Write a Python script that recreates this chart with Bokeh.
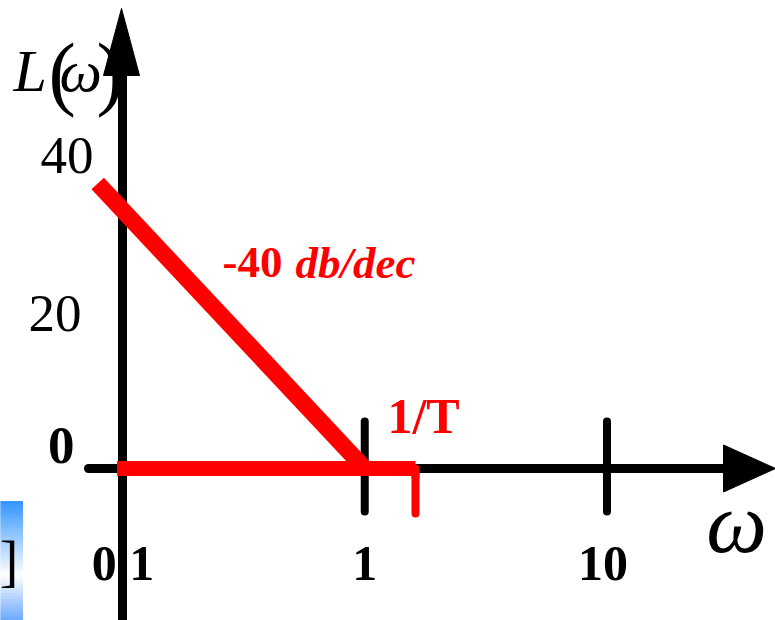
import numpy as np
from bokeh.plotting import figure
from bokeh.models import Range1d
from bokeh.core.properties import value
from bokeh.embed import file_html
from bokeh.resources import INLINE

# ---------------- data ----------------
x_ticks = [1, 10]                       # tick marks drawn on the omega axis
x_tick_values = [0.1, 1, 10]            # tick label positions
x_tick_labels = ["0.1", "1", "10"]
y_tick_values = [0, 20, 40]
y_tick_labels = ["0", "20", "40"]
slope_w = [0.079, 1.0]                  # -40 dB/dec asymptote
slope_L = [38.0, 0.0]
flat_w = [0.095, 1.62]                  # 0 dB asymptote up to 1/T
flat_L = [0.0, 0.0]
corner_w = 1.62                         # 1/T
slope_text_a = "-40"
slope_text_b = "db/dec"
corner_text = "1/T"

# ---------------- layout helpers ----------------
W, H = 775, 620
LMIN, LMAX = -1.5036, 1.6956
YMIN, YMAX = -20.27, 62.4
SERIF = value("Liberation Serif")


def to_w(px):
    """page x pixel -> omega"""
    return 10 ** (LMIN + px / W * (LMAX - LMIN))


def to_L(py):
    """page y pixel -> dB"""
    return YMAX - py / H * (YMAX - YMIN)


p = figure(width=W, height=H, x_axis_type="log",
           x_range=Range1d(10 ** LMIN, 10 ** LMAX), y_range=Range1d(YMIN, YMAX),
           x_axis_location=None, y_axis_location=None,
           output_backend="svg", toolbar_location=None, min_border=0)
p.grid.visible = False
p.outline_line_color = None
p.background_fill_color = "white"
p.border_fill_color = "white"

# ---- leftover slide fragment at the left edge ----
stops = [(501, (51, 150, 255)), (575, (255, 255, 255)), (620, (110, 170, 255))]
n = 40
edges = np.linspace(501, 620, n + 1)
cols = []
for i in range(n):
    t = (edges[i] + edges[i + 1]) / 2
    for (a, ca), (b, cb) in zip(stops[:-1], stops[1:]):
        if a <= t <= b:
            f = (t - a) / (b - a)
            c = tuple(int(ca[k] + (cb[k] - ca[k]) * f) for k in range(3))
    cols.append("#%02x%02x%02x" % c)
p.quad(left=[to_w(0)] * n, right=[to_w(22)] * n,
       top=[to_L(e) for e in edges[:-1]], bottom=[to_L(e) for e in edges[1:]],
       fill_color=cols, line_color=cols, line_width=1)
p.text(x=[to_w(18)], y=[to_L(560)], text=["]"], text_font=SERIF,
       text_font_size="56px", text_align="right", text_baseline="middle",
       text_color="black")

# ---- texts (drawn first so the axis covers the decimal point of 0.1) ----
# L(ω) with upright tall parentheses
p.text(x=[to_w(13)], y=[to_L(70)], text=["L"], text_font=SERIF,
       text_font_style="italic", text_font_size="60px",
       text_align="left", text_baseline="alphabetic", text_color="black")
p.text(x=[to_w(48)], y=[to_L(72)], text=["("], text_font=SERIF,
       text_font_size="82px", text_align="left", text_baseline="alphabetic",
       text_color="black")
p.text(x=[to_w(59)], y=[to_L(70)], text=["ω"], text_font=SERIF,
       text_font_style="italic", text_font_size="60px",
       text_align="left", text_baseline="alphabetic", text_color="black")
p.text(x=[to_w(96)], y=[to_L(72)], text=[")"], text_font=SERIF,
       text_font_size="82px", text_align="left", text_baseline="alphabetic",
       text_color="black")

ylab_px = {"0": (74, 445, "bold"), "20": (81, 313, "normal"), "40": (93, 155, "normal")}
for v, lab in zip(y_tick_values, y_tick_labels):
    px, py, style = ylab_px[lab]
    p.text(x=[to_w(px)], y=[to_L(py)], text=[lab], text_font=SERIF,
           text_font_style=style, text_font_size="53px",
           text_align="right", text_baseline="middle", text_color="black")

xlab_offset_px = [0.5, 0, -4]
for v, lab, off in zip(x_tick_values, x_tick_labels, xlab_offset_px):
    p.text(x=[v], y=[to_L(563)], x_offset=off, text=[lab], text_font=SERIF,
           text_font_style="bold", text_font_size="50px",
           text_align="center", text_baseline="middle", text_color="black")

p.text(x=[to_w(736)], y=[to_L(522)], text=["ω"], text_font=SERIF,
       text_font_style="italic", text_font_size="86px",
       text_align="center", text_baseline="middle", text_color="black")

p.text(x=[to_w(423)], y=[to_L(415)], text=[corner_text], text_font=SERIF,
       text_font_style="bold", text_font_size="50px",
       text_align="center", text_baseline="middle", text_color="red")
p.text(x=[to_w(222)], y=[to_L(262)], text=[slope_text_a], text_font=SERIF,
       text_font_style="bold", text_font_size="45px",
       text_align="left", text_baseline="middle", text_color="red")
p.text(x=[to_w(295)], y=[to_L(262)], text=[slope_text_b], text_font=SERIF,
       text_font_style="bold italic", text_font_size="45px",
       text_align="left", text_baseline="middle", text_color="red")

# ---- axes ----
p.line(x=[to_w(88), to_w(730)], y=[0, 0], line_color="black", line_width=9,
       line_cap="round")
p.patch(x=[to_w(723), to_w(775), to_w(723)], y=[to_L(468 - 23.5), 0, to_L(468 + 23.5)],
        fill_color="black", line_color="black", line_width=1)
p.line(x=[0.1, 0.1], y=[YMIN - 5, to_L(70)], line_color="black", line_width=9)
p.patch(x=[to_w(103), to_w(121), to_w(139)], y=[to_L(75), to_L(8), to_L(75)],
        fill_color="black", line_color="black", line_width=1)

# tick marks on the omega axis
p.segment(x0=x_ticks, x1=x_ticks, y0=[to_L(421)] * len(x_ticks),
          y1=[to_L(511)] * len(x_ticks), line_color="black", line_width=8,
          line_cap="round")

# ---- asymptotes ----
p.line(x=flat_w, y=flat_L, line_color="red", line_width=15, line_cap="butt")
p.line(x=slope_w, y=slope_L, line_color="red", line_width=17, line_cap="butt")
p.line(x=[corner_w, corner_w], y=[0, to_L(513)], line_color="red", line_width=8,
       line_cap="round")
p.line(x=[corner_w, corner_w], y=[0, to_L(478)], line_color="red", line_width=8,
       line_cap="butt")

open("out.html", "w").write(file_html(p, INLINE))
